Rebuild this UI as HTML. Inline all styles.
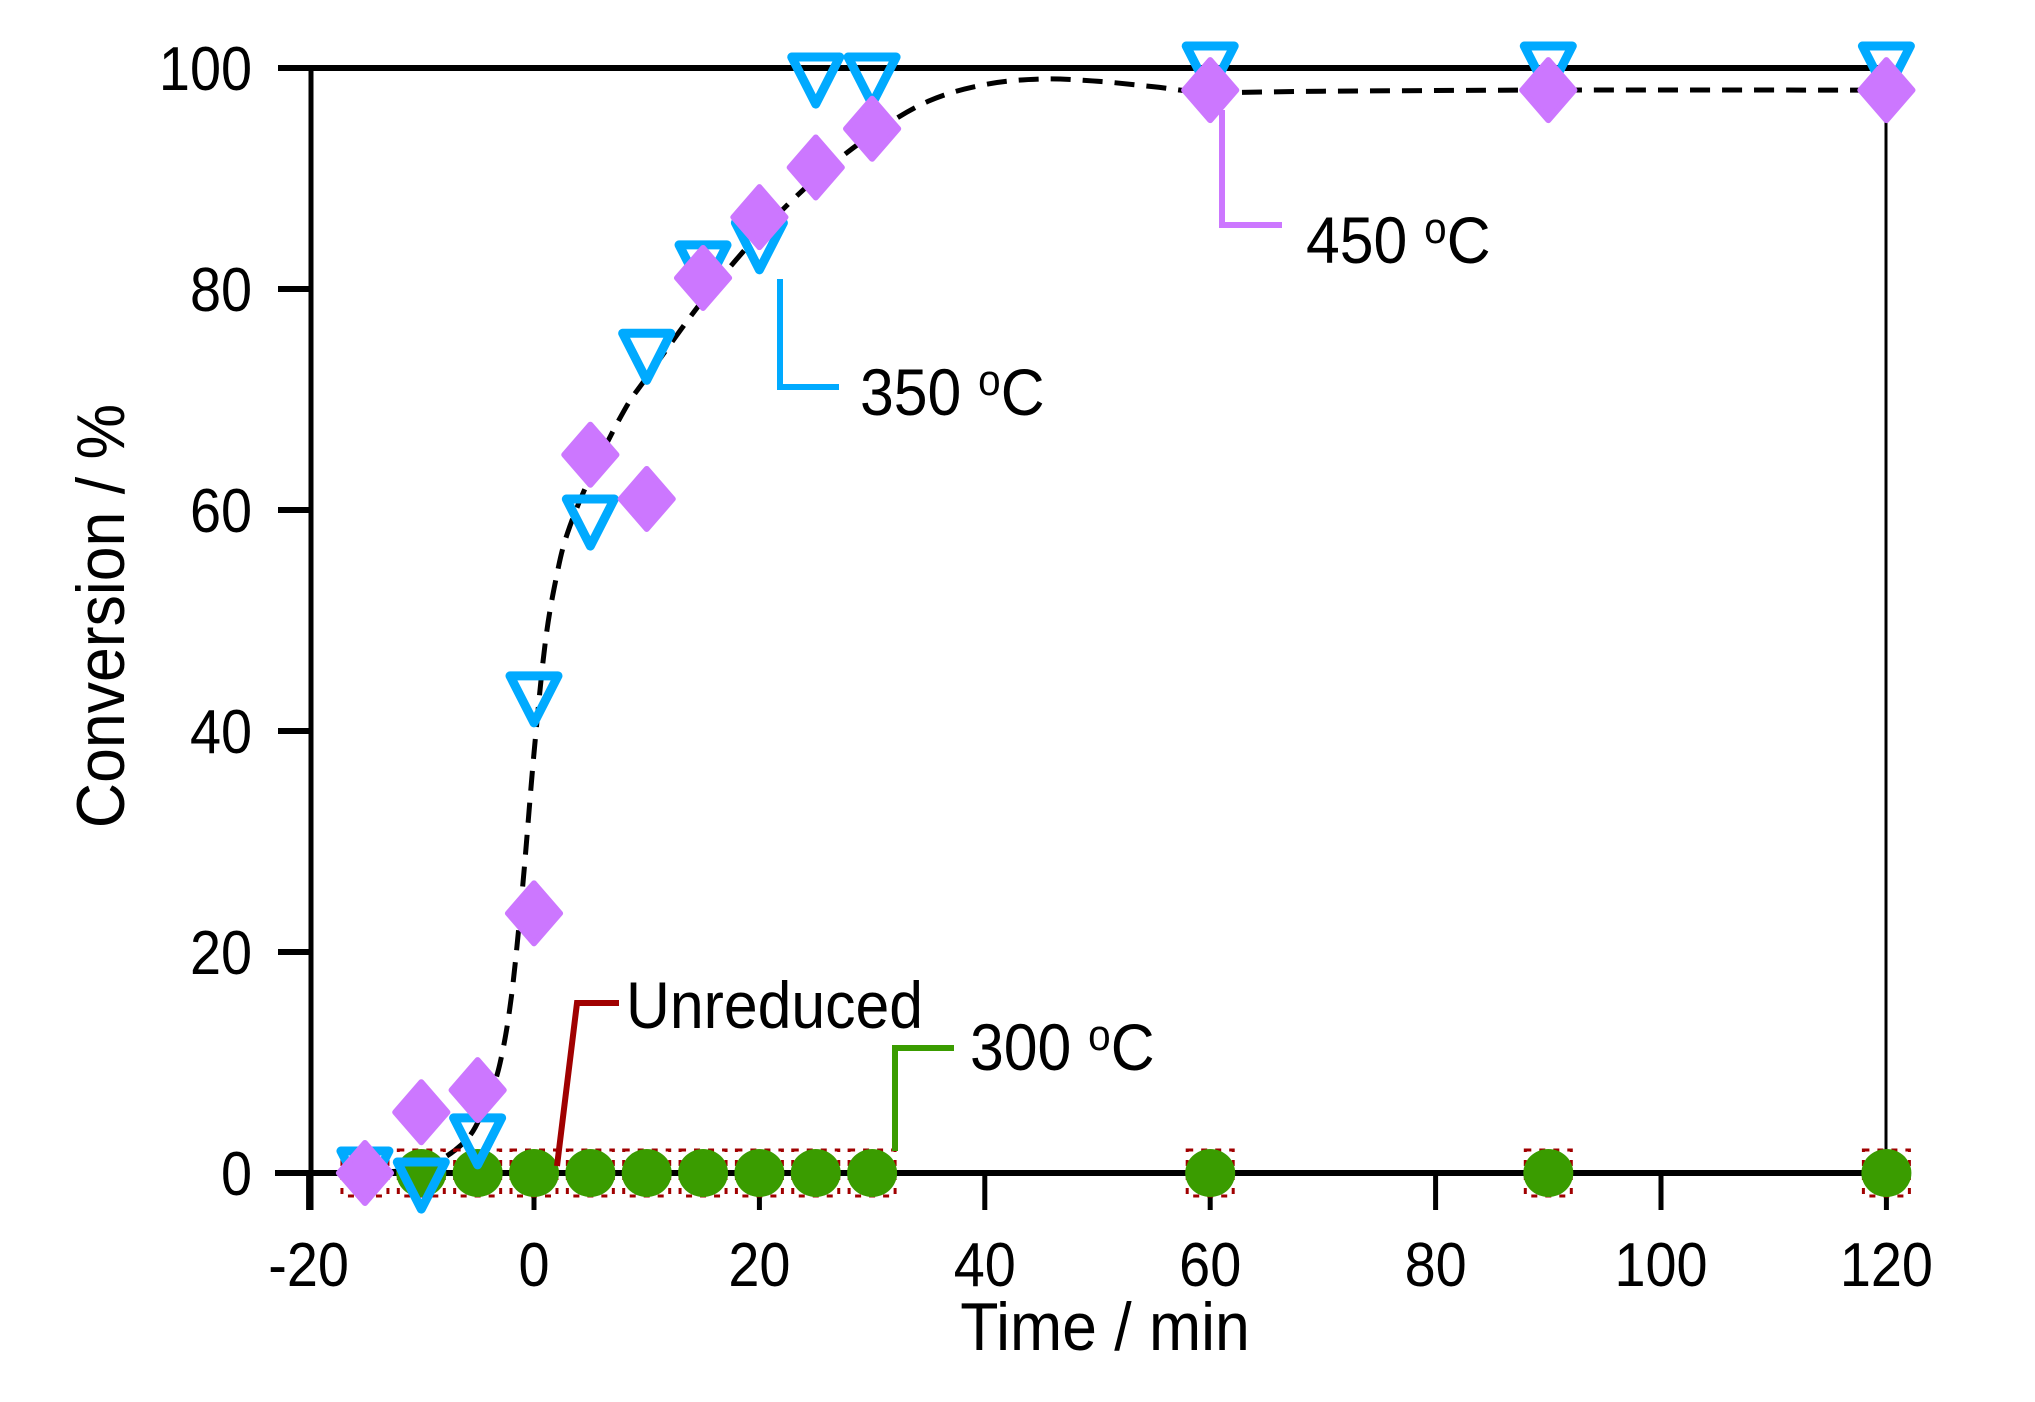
<!DOCTYPE html>
<html><head><meta charset="utf-8"><style>
html,body{margin:0;padding:0;background:#fff;}
svg{display:block;font-family:"Liberation Sans",Arial,sans-serif;}
</style></head><body>
<svg id="chart" width="2035" height="1402" viewBox="0 0 2035 1402">
<g id="axes"></g>
<path id="fit" fill="none" stroke="#000" stroke-width="5" stroke-dasharray="20,12"></path>
<g id="marks"></g>
<g id="ann"></g>
<text x="0" y="0" transform="translate(124,616) rotate(-90) scale(0.92,1)" font-size="68" text-anchor="middle">Conversion / %</text>
<text x="0" y="0" transform="translate(1105,1350) scale(0.92,1)" font-size="68" text-anchor="middle">Time / min</text>
</svg>
<script>
const xTicks=[-20,0,20,40,60,80,100,120];
const yTicks=[0,20,40,60,80,100];
const times=[-15,-10,-5,0,5,10,15,20,25,30,60,90,120];
const conv350=[0,-1,3,43,59,74,82,84,99,99,100,100,100];
const conv450=[0,5.5,7.5,23.5,65,61,81,86.5,91,94.5,98,98,98];
const conv300=[null,0,0,0,0,0,0,0,0,0,0,0,0];
const convUnred=[0,0,0,0,0,0,0,0,0,0,0,0,0];
const fitT=[-16,-10,-6,-4,-3,-2,-1,0,1,2,3,5,8,10,15,20,25,30,35,40,45,50,55,60,70,90,120];
const fitV=[0,0.5,3,7,10,16,26,38,48,54,58,63,69,72,79,85,90,94,97,98.5,99,98.8,98.3,97.8,97.9,98,98];

const NS="http://www.w3.org/2000/svg";
const X=v=>534+v*11.27, Y=v=>1173-v*11.05;
function mk(tag,attrs,parent){const e=document.createElementNS(NS,tag);for(const k in attrs)e.setAttribute(k,attrs[k]);parent.appendChild(e);return e;}
const axes=document.getElementById('axes');
let e;
e=mk('line',{x1:278,y1:68,x2:1886,y2:68,stroke:'#000','stroke-width':6},axes);


e=mk('line',{x1:311,y1:65,x2:311,y2:1210,stroke:'#000','stroke-width':5},axes);


e=mk('line',{x1:1886,y1:68,x2:1886,y2:1210,stroke:'#000','stroke-width':3},axes);


e=mk('line',{x1:275,y1:1173,x2:1886,y2:1173,stroke:'#000','stroke-width':6},axes);


yTicks.forEach(v=>{
  const t=mk('line',{x1:278,y1:Y(v),x2:311,y2:Y(v),stroke:'#000','stroke-width':6},axes);
  
  
  const l=mk('text',{x:0,y:0,transform:'translate(252,'+(Y(v)+22)+') scale(0.9,1)','font-size':62,'text-anchor':'end'},axes);
  l.textContent=v;
  
  
});
xTicks.forEach(v=>{
  const t=mk('line',{x1:X(v),y1:1173,x2:X(v),y2:1210,stroke:'#000','stroke-width':5},axes);
  
  
  const l=mk('text',{x:0,y:0,transform:'translate('+X(v)+',1286) scale(0.9,1)','font-size':62,'text-anchor':'middle'},axes);
  l.textContent=v;
  
  
});
const pts=fitT.map((t,i)=>[X(t),Y(fitV[i])]);
let d='M'+pts[0][0]+','+pts[0][1];
for(let i=0;i<pts.length-1;i++){
  const p0=pts[Math.max(i-1,0)],p1=pts[i],p2=pts[i+1],p3=pts[Math.min(i+2,pts.length-1)];
  d+=' C'+(p1[0]+(p2[0]-p0[0])/6)+','+(p1[1]+(p2[1]-p0[1])/6)+' '+(p2[0]-(p3[0]-p1[0])/6)+','+(p2[1]-(p3[1]-p1[1])/6)+' '+p2[0]+','+p2[1];
}
document.getElementById('fit').setAttribute('d',d);
const marks=document.getElementById('marks');
times.forEach((t,i)=>{if(convUnred[i]==null)return;
  const r=mk('rect',{x:X(t)-23,y:Y(convUnred[i])-23,width:46,height:46,fill:'none',stroke:'#a00000','stroke-width':3,'stroke-dasharray':'6,8'},marks);
  
  
});
times.forEach((t,i)=>{if(conv300[i]==null)return;
  const c=mk('ellipse',{cx:X(t),cy:Y(conv300[i]),rx:25,ry:24,fill:'#3a9c00'},marks);
  
  
});
times.forEach((t,i)=>{const x=X(t),y=Y(conv350[i]);
  const p=mk('polygon',{points:(x-24)+','+(y-22)+' '+(x+24)+','+(y-22)+' '+x+','+(y+25),fill:'none',stroke:'#00aaff','stroke-width':9,'stroke-linejoin':'round'},marks);
  
  
});
times.forEach((t,i)=>{const x=X(t),y=Y(conv450[i]);
  const p=mk('polygon',{points:x+','+(y-30)+' '+(x+26)+','+y+' '+x+','+(y+30)+' '+(x-26)+','+y,fill:'#cc77ff','stroke':'#cc77ff','stroke-width':6,'stroke-linejoin':'round'},marks);
  
  
});
const ann=document.getElementById('ann');
function callout(name,pts,color,tx,ty,label,sup){
  const pl=mk('polyline',{points:pts,fill:'none',stroke:color,'stroke-width':6},ann);
  
  
  const tt=mk('text',{x:0,y:0,transform:'translate('+tx+','+ty+') scale(0.92,1)','font-size':66},ann);
  
  
  if(sup){tt.innerHTML=label+' <tspan font-size="44" dy="-20">o</tspan><tspan dy="20">C</tspan>';}
  else tt.textContent=label;
}
callout('label-450c','1222,110 1222,225 1282,225','#cc77ff',1306,263,'450',true);
callout('label-350c','780,279 780,387 839,387','#00aaff',860,415,'350',true);
callout('label-unreduced','557,1166 577,1003 619,1003','#a00000',626,1028,'Unreduced',false);
callout('label-300c','895,1151 895,1048 954,1048','#3a9c00',970,1070,'300',true);
</script>
</body></html>
